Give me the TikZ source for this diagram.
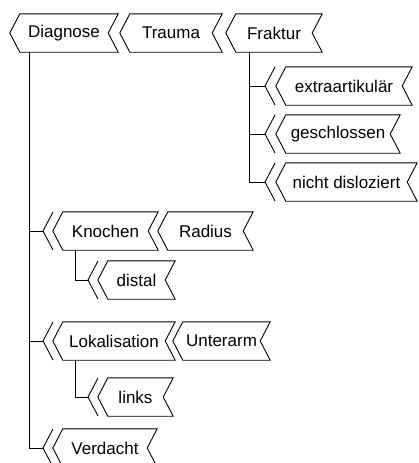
\documentclass[tikz,border=0pt]{standalone}
\usepackage{fontspec}
\setmainfont{Liberation Sans}
\tikzset{
  lbl/.style={inner sep=0pt, minimum height=38pt, font=\fontsize{17}{20}\selectfont},
  ln/.style={line width=0.9pt, black},
}
% name, left corner x, notch x, centre y, text
\newcommand\cbox[5]{%
  \node[lbl, minimum width={(#3-#2)*1pt}] (#1) at ({(#2+#3)/2},#4) {#5};
  \draw[ln] (#1.north west) -- ([xshift=10pt]#1.north east) -- (#1.east)
     -- ([xshift=10pt]#1.south east) -- (#1.south west) -- ([xshift=-10pt]#1.west) -- cycle;
}
% name, vertex x, y
\newcommand\chev[3]{%
  \coordinate (#1) at (#2,#3);
  \draw[ln] ([shift={(10,-19)}]#1) -- (#1) -- ([shift={(10,19)}]#1);
}
\begin{document}
\begin{tikzpicture}[x=1pt,y=-1pt]
\useasboundingbox (0,0) rectangle (418,463);
% main row
\cbox{diag}{20}{108}{33}{Diagnose}
\cbox{trauma}{130}{212}{33}{Trauma}
\cbox{frak}{236}{312}{33}{Fraktur}
% Fraktur children
\chev{c1}{265}{86}
\cbox{extra}{286}{402}{86}{extraartikulär}
\chev{c2}{265}{134}
\cbox{gesch}{286}{390}{134}{geschlossen}
\chev{c3}{265}{182}
\cbox{nicht}{286}{407}{182}{nicht disloziert}
\draw[ln] ([xshift=14pt]frak.south west) |- (c1);
\draw[ln] ([xshift=14pt]frak.south west) |- (c2);
\draw[ln] ([xshift=14pt]frak.south west) |- (c3);
% Diagnose children
\chev{d1}{43}{231}
\cbox{knochen}{63}{148}{231}{Knochen}
\cbox{radius}{168}{243}{231}{Radius}
\chev{k1}{88}{280}
\cbox{distal}{108}{165}{280}{distal}
\draw[ln] ([xshift=13pt]knochen.south west) |- (k1);
\chev{d2}{43}{341}
\cbox{lokal}{63}{165}{341}{Lokalisation}
\cbox{unter}{183}{260}{341}{Unterarm}
\chev{l1}{88}{397}
\cbox{links}{108}{163}{397}{links}
\draw[ln] ([xshift=13pt]lokal.south west) |- (l1);
\chev{d3}{43}{448}
\cbox{verd}{63}{147}{448}{Verdacht}
\draw[ln] ([xshift=10pt]diag.south west) |- (d1);
\draw[ln] ([xshift=10pt]diag.south west) |- (d2);
\draw[ln] ([xshift=10pt]diag.south west) |- (d3);
\end{tikzpicture}
\end{document}
